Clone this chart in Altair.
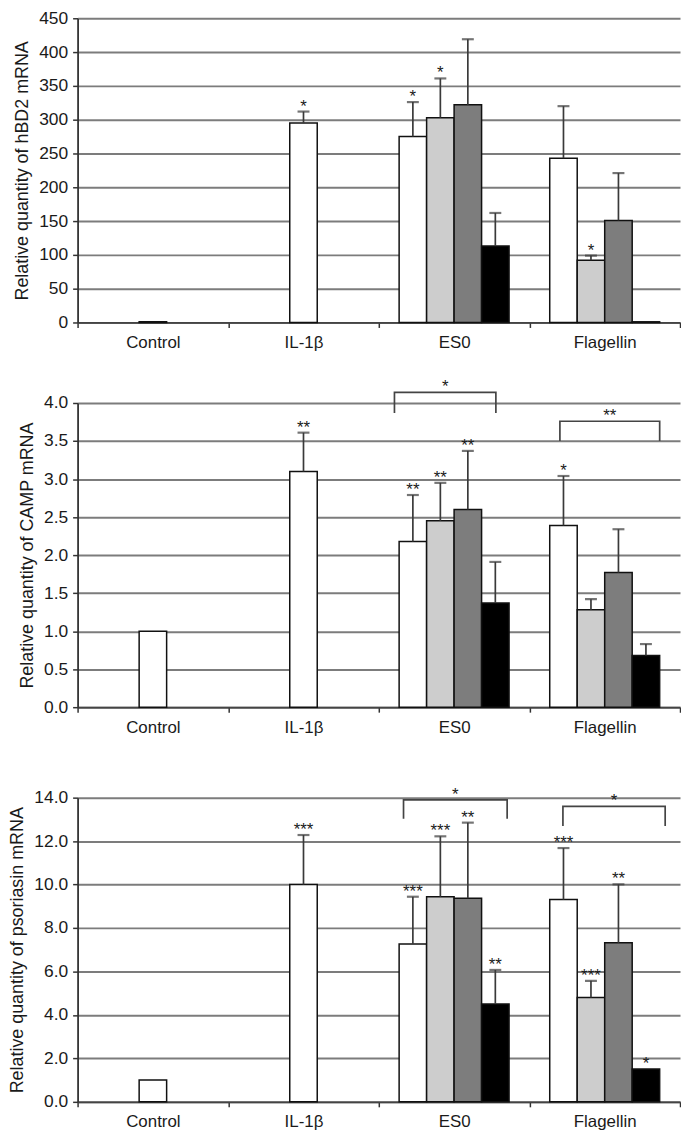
import altair as alt
import pandas as pd

# ---------------- data ----------------
categories = ["Control", "IL-1β", "ES0", "Flagellin"]
series = ["Group 1", "Group 2", "Group 3", "Group 4"]
bar_fill = ["#ffffff", "#cdcdcd", "#7d7d7d", "#000000"]

# hBD2 panel (mean, error, significance)
hbd2_control, hbd2_control_err, hbd2_control_sig = [1], [0], [""]
hbd2_il1b, hbd2_il1b_err, hbd2_il1b_sig = [295], [17], ["*"]
hbd2_es0 = [275, 303, 322, 113]
hbd2_es0_err = [51, 58, 97, 49]
hbd2_es0_sig = ["*", "*", "", ""]
hbd2_flag = [243, 92, 151, 1]
hbd2_flag_err = [77, 7, 70, 0]
hbd2_flag_sig = ["", "*", "", ""]

# CAMP panel
camp_control, camp_control_err, camp_control_sig = [1.0], [0], [""]
camp_il1b, camp_il1b_err, camp_il1b_sig = [3.10], [0.51], ["**"]
camp_es0 = [2.18, 2.45, 2.60, 1.37]
camp_es0_err = [0.61, 0.50, 0.77, 0.54]
camp_es0_sig = ["**", "**", "**", ""]
camp_flag = [2.39, 1.28, 1.77, 0.68]
camp_flag_err = [0.65, 0.14, 0.57, 0.15]
camp_flag_sig = ["*", "", "", ""]
camp_br_cat = ["ES0", "Flagellin"]
camp_br_from = [-0.17, 0.37]
camp_br_to = [3.52, 4.0]
camp_br_top = [4.14, 3.76]
camp_br_leg = [3.87, 3.50]
camp_br_sig = ["*", "**"]

# psoriasin panel
psor_control, psor_control_err, psor_control_sig = [1.0], [0], [""]
psor_il1b, psor_il1b_err, psor_il1b_sig = [10.0], [2.28], ["***"]
psor_es0 = [7.26, 9.44, 9.37, 4.50]
psor_es0_err = [2.18, 2.78, 3.48, 1.57]
psor_es0_sig = ["***", "***", "**", "**"]
psor_flag = [9.31, 4.80, 7.32, 1.51]
psor_flag_err = [2.37, 0.77, 2.69, 0]
psor_flag_sig = ["***", "***", "**", "*"]
psor_br_cat = ["ES0", "Flagellin"]
psor_br_from = [0.16, 0.48]
psor_br_to = [3.93, 4.2]
psor_br_top = [13.9, 13.6]
psor_br_leg = [13.03, 12.7]
psor_br_sig = ["*", "*"]

hbd2_ticks = [0, 50, 100, 150, 200, 250, 300, 350, 400, 450]
camp_ticks = [0.0, 0.5, 1.0, 1.5, 2.0, 2.5, 3.0, 3.5, 4.0]
psor_ticks = [0.0, 2.0, 4.0, 6.0, 8.0, 10.0, 12.0, 14.0]

# ---------------- layout / style ----------------
BAR_W = 0.1825          # bar width as a fraction of a category
PLOT_W = 606
PLOT_H = 306
FONT = "Liberation Sans"
TXT = "#1a1a1a"
STAR_SIZE = 17


def bar_frame(groups):
    rows = []
    for cat, vals, errs, sigs in groups:
        ci = categories.index(cat)
        for k, (v, e, s) in enumerate(zip(vals, errs, sigs)):
            rows.append(dict(cat=cat, ci=ci, slot=k, n=len(vals), value=v,
                             err=e, sig=s, series=series[k]))
    return pd.DataFrame(rows)


def bracket_frames(cats, lo, hi, top, leg, sig):
    pts, labs = [], []
    for j, c in enumerate(cats):
        ci = categories.index(c)
        for k, (p, yv) in enumerate([(lo[j], leg[j]), (lo[j], top[j]),
                                     (hi[j], top[j]), (hi[j], leg[j])]):
            pts.append(dict(key=j, ord=k, ci=ci, pos=p, y=yv))
        labs.append(dict(ci=ci, pos=(lo[j] + hi[j]) / 2, y=top[j], sig=sig[j]))
    return pd.DataFrame(pts), pd.DataFrame(labs)


xs = alt.Scale(domain=[0, 4], nice=False, zero=False)


def make_x_axis(extra_space=0):
    kw = dict(
        values=[i / 2 for i in range(9)],
        labelExpr="datum.value % 1 == 0.5 ? ['Control','IL-1β','ES0','Flagellin'][floor(datum.value)] : ''",
        tickOpacity={"condition": {"test": "datum.value % 1 != 0", "value": 0}, "value": 1},
        grid=False, labelOverlap=False, labelFlush=False,
        labelFontSize=17, labelPadding=7, labelColor=TXT,
        tickSize=5, tickColor="#333", tickWidth=1.5,
        domainColor="#444", domainWidth=1.8,
    )
    if extra_space:
        kw.update(title=" ", titleFontSize=2, titlePadding=extra_space)
    else:
        kw.update(title=None)
    return alt.Axis(**kw)


def panel(df, title, ticks, fmt, brackets=None, extra_space=0):
    x_axis = make_x_axis(extra_space)
    ys = alt.Scale(domain=[ticks[0], ticks[-1]], nice=False, zero=True)
    y_axis = alt.Axis(
        values=ticks, format=fmt, title=title, titleFontSize=18,
        titleFontWeight="normal", titlePadding=7, titleColor=TXT,
        labelFontSize=17.5, labelPadding=5, labelColor=TXT,
        tickSize=5, tickColor="#333", tickWidth=1.5,
        domainColor="#333", domainWidth=1.8,
        grid=True, gridColor="#7c7c7c", gridWidth=2,
    )

    def X(f):
        return alt.X(f, scale=xs, axis=x_axis)

    def Y(f):
        return alt.Y(f, scale=ys, axis=y_axis)

    base = alt.Chart(df).transform_calculate(
        x0=f"datum.ci + 0.5 + (datum.slot - datum.n / 2) * {BAR_W}",
        x1=f"datum.ci + 0.5 + (datum.slot - datum.n / 2 + 1) * {BAR_W}",
        xc=f"datum.ci + 0.5 + (datum.slot - datum.n / 2 + 0.5) * {BAR_W}",
        upper="datum.value + datum.err",
    )
    bars = base.mark_bar(stroke="#111", strokeWidth=1.5).encode(
        x=X("x0:Q"), x2="x1:Q",
        y=Y("value:Q"), y2=alt.datum(0),
        color=alt.Color("series:N", scale=alt.Scale(domain=series, range=bar_fill), legend=None),
    )
    errs = base.transform_filter("datum.err > 0").mark_rule(color="#3a3a3a", strokeWidth=1.7).encode(
        x=X("xc:Q"), y=Y("value:Q"), y2="upper:Q",
    )
    caps = base.transform_filter("datum.err > 0").mark_tick(
        orient="horizontal", size=12, thickness=2.2, color="#3a3a3a").encode(
        x=X("xc:Q"), y=Y("upper:Q"),
    )
    stars = base.transform_filter("datum.sig != ''").mark_text(
        baseline="alphabetic", dy=0, fontSize=STAR_SIZE, color=TXT, font=FONT).encode(
        x=X("xc:Q"), y=Y("upper:Q"), text="sig:N",
    )
    layers = [bars, errs, caps, stars]
    if brackets is not None:
        pts, labs = bracket_frames(*brackets)
        bx = f"datum.ci + 0.5 - 2 * {BAR_W} + datum.pos * {BAR_W}"
        line = alt.Chart(pts).transform_calculate(bx=bx).mark_line(
            color="#444", strokeWidth=1.7).encode(
            x=X("bx:Q"), y=Y("y:Q"), detail="key:N", order="ord:Q",
        )
        txt = alt.Chart(labs).transform_calculate(bx=bx).mark_text(
            baseline="alphabetic", dy=0, fontSize=STAR_SIZE, color=TXT, font=FONT).encode(
            x=X("bx:Q"), y=Y("y:Q"), text="sig:N",
        )
        layers += [line, txt]
    return alt.layer(*layers).properties(width=PLOT_W, height=PLOT_H)


hbd2_df = bar_frame([
    ("Control", hbd2_control, hbd2_control_err, hbd2_control_sig),
    ("IL-1β", hbd2_il1b, hbd2_il1b_err, hbd2_il1b_sig),
    ("ES0", hbd2_es0, hbd2_es0_err, hbd2_es0_sig),
    ("Flagellin", hbd2_flag, hbd2_flag_err, hbd2_flag_sig),
])
camp_df = bar_frame([
    ("Control", camp_control, camp_control_err, camp_control_sig),
    ("IL-1β", camp_il1b, camp_il1b_err, camp_il1b_sig),
    ("ES0", camp_es0, camp_es0_err, camp_es0_sig),
    ("Flagellin", camp_flag, camp_flag_err, camp_flag_sig),
])
psor_df = bar_frame([
    ("Control", psor_control, psor_control_err, psor_control_sig),
    ("IL-1β", psor_il1b, psor_il1b_err, psor_il1b_sig),
    ("ES0", psor_es0, psor_es0_err, psor_es0_sig),
    ("Flagellin", psor_flag, psor_flag_err, psor_flag_sig),
])

c1 = panel(hbd2_df, "Relative quantity of hBD2 mRNA", hbd2_ticks, "d")
c2 = panel(camp_df, "Relative quantity of CAMP mRNA", camp_ticks, ".1f",
           (camp_br_cat, camp_br_from, camp_br_to, camp_br_top, camp_br_leg, camp_br_sig),
           extra_space=21)
c3 = panel(psor_df, "Relative quantity of psoriasin mRNA", psor_ticks, ".1f",
           (psor_br_cat, psor_br_from, psor_br_to, psor_br_top, psor_br_leg, psor_br_sig))

chart = alt.vconcat(c1, c2, c3, spacing=28).properties(
    padding={"left": 0, "top": -2, "right": 0, "bottom": 0}
).configure(font=FONT).configure_axis(
    labelFont=FONT, titleFont=FONT
).configure_view(stroke=None)

chart.save("out.html", embed_options={"renderer": "svg", "actions": False})
